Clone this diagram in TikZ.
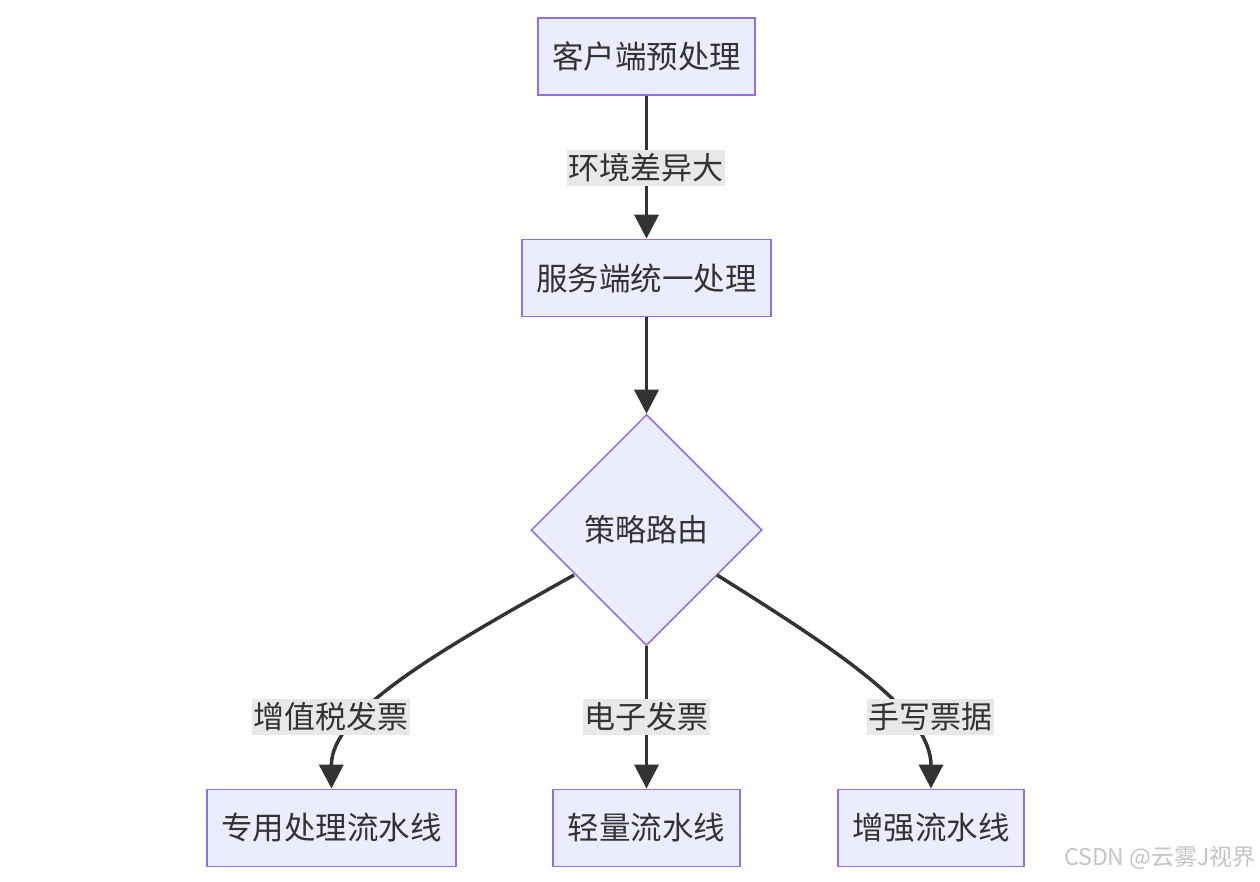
\documentclass[tikz,border=0pt]{standalone}
\usepackage{fontspec}
\setmainfont{Noto Sans CJK SC}
\usetikzlibrary{shapes.geometric,arrows.meta}
\definecolor{nodefill}{HTML}{ECECFF}
\definecolor{nodeline}{HTML}{9370DB}
\definecolor{edgecol}{HTML}{333333}
\definecolor{lblbg}{HTML}{E8E8E8}
\definecolor{wm}{HTML}{C4C4C4}
\tikzset{
  box/.style={draw=nodeline, fill=nodefill, line width=1.8pt, text=edgecol,
    font=\fontsize{31.5}{33}\selectfont, inner sep=0pt, minimum height=77pt},
  dia/.style={diamond, aspect=1, draw=nodeline, fill=nodefill, line width=1.5pt,
    text=edgecol, font=\fontsize{31}{33}\selectfont, inner sep=0pt,
    minimum width=231pt, minimum height=231pt},
  lbl/.style={fill=lblbg, text=edgecol, font=\fontsize{31}{33}\selectfont,
    inner xsep=1.5pt, inner ysep=0pt, minimum height=36pt},
  edge/.style={draw=edgecol, line width=3.5pt,
    -{Triangle[width=24pt,length=24pt]}},
}
\begin{document}
\begin{tikzpicture}[x=1pt,y=-1pt]
\useasboundingbox (0,0) rectangle (1260,881);
\node[box, minimum width=217pt] (c) at (646.5,56.5) {客户端预处理};
\node[box, minimum width=249pt] (s) at (646.5,278) {服务端统一处理};
\node[dia] (d) at (646.5,530) {策略路由};
\node[box, minimum width=249pt] (p1) at (331.5,828) {专用处理流水线};
\node[box, minimum width=187pt] (p2) at (646.5,828) {轻量流水线};
\node[box, minimum width=186pt] (p3) at (931,828) {增强流水线};

\coordinate (dl) at (574,575);
\coordinate (dr) at (717,575);

\draw[edge] (c) -- (s);
\draw[edge] (s) -- (d);
\draw[edge] (dl) .. controls (440,650) and (331,712) .. (p1.north);
\draw[edge] (d.south) -- (p2);
\draw[edge] (dr) .. controls (840,652) and (931,712) .. (p3.north);

\node[lbl] (l1) at (646,168) {环境差异大};
\node[lbl] (l2) at (331,717) {增值税发票};
\node[lbl] (l3) at (646.5,717) {电子发票};
\node[lbl] (l4) at (930,717) {手写票据};

\node[text=wm, font=\fontsize{23}{24}\selectfont, anchor=east, inner sep=0pt] (w) at (1256,858) {CSDN @云雾J视界};
\end{tikzpicture}
\end{document}
